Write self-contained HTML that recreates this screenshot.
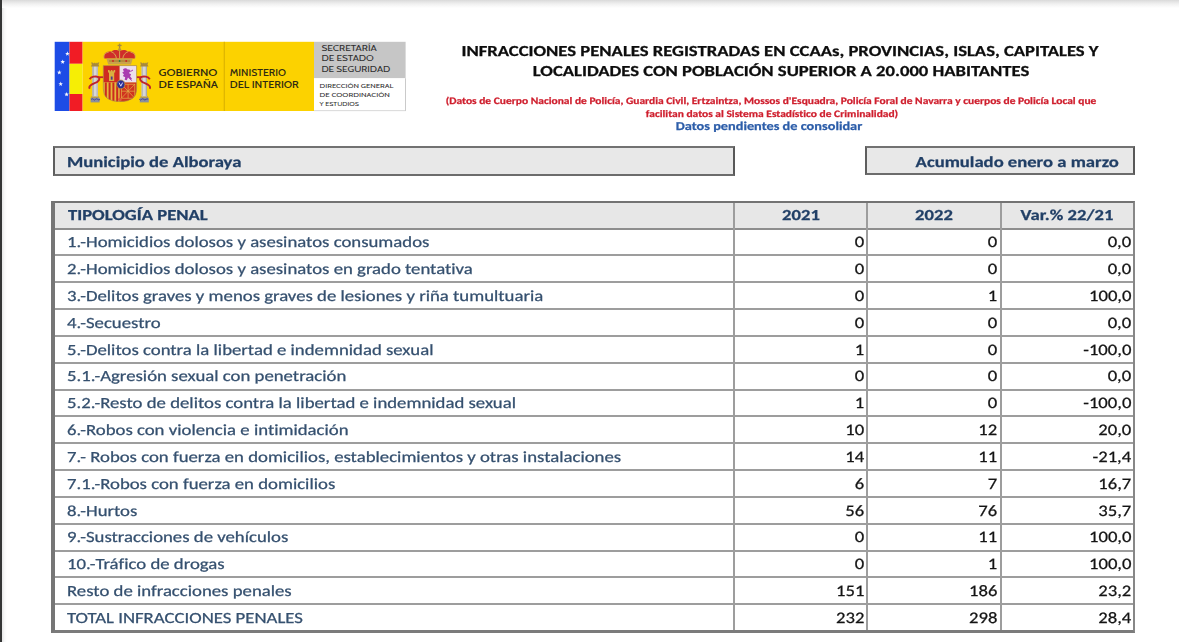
<!DOCTYPE html>
<html lang="es"><head><meta charset="utf-8"><title>Infracciones penales - Alboraya</title>
<style>
html,body{margin:0;padding:0;}
body{width:1179px;height:642px;position:relative;overflow:hidden;background:#fff;}
.t{position:absolute;white-space:nowrap;will-change:transform;text-rendering:geometricPrecision;font-variant-ligatures:none;-webkit-text-stroke:0.25px currentColor;font-family:"Calibri","Carlito","Liberation Sans",sans-serif;}
.shadeT{position:absolute;left:0;top:0;width:1179px;height:8px;background:linear-gradient(#d9d9d9,#e6e6e6 25%,#f1f1f1 50%,#f9f9f9 78%,#fff);}
.barL{position:absolute;left:0;top:0;width:2px;height:642px;background:#343535;}
.shadeL{position:absolute;left:2px;top:0;width:5px;height:642px;background:linear-gradient(90deg,#e6e6e6,#f8f8f8 50%,#fff);}
.box{position:absolute;box-sizing:border-box;border:2px solid;border-color:#727272 #585858 #6c6c6c #5e5e5e;background:#e8e8e8;}
.tbl{position:absolute;left:51px;top:201px;width:1084px;height:432px;box-sizing:border-box;border-style:solid;border-color:#737373 #878787 #7b7b7b #767676;border-width:2px 2px 3.3px 4px;background:#fff;}
.thead{position:absolute;left:55px;top:203px;width:1078px;height:25px;background:#e7e7e7;}
.hl{position:absolute;left:55px;width:1078px;height:2px;}
.vl{position:absolute;top:203px;width:2px;height:427px;background:#9d9d9d;}
</style></head>
<body>
<div class="shadeL"></div>
<div class="shadeT"></div>
<div class="barL"></div>
<svg style="position:absolute;left:50px;top:38px" width="360" height="78" viewBox="50 38 360 78">
<defs>
<clipPath id="sh"><path d="M103.3 65.6H136.6V89Q136.6 101.6 120 101.6Q103.3 101.6 103.3 89Z"/></clipPath>
<g id="pillar">
 <rect x="90.6" y="97.6" width="9" height="4.8" fill="#8a8f9e"/>
 <path d="M91.2 99.4q1.1-1.2 2.2 0t2.2 0 2.2 0 2.2 0" stroke="#3b3f9a" stroke-width="1" fill="none"/>
 <rect x="91.4" y="96.2" width="7.4" height="1.8" fill="#b49a52"/>
 <rect x="92.4" y="65.8" width="5.4" height="30.6" fill="#d7d7d7"/>
 <rect x="92.4" y="65.8" width="1.3" height="30.6" fill="#a9a9a9"/>
 <rect x="96.5" y="65.8" width="1.3" height="30.6" fill="#b7b7b7"/>
 <path d="M90.9 66.4h8.4l-.8-2.2.9-1.6h-1.6l-.8 1-.9-1.2-.9 1.2-.9-1.2-.9 1.2-.8-1h-1.6l.9 1.6z" fill="#a88a3c"/>
 <path d="M89.6 79.2c1.5-2.6 6-3.4 8.6-2.2c2.6 1.6.4 4.8-3.6 6.2c-3.6 1.4-6.4 3.4-4.8 5.6" stroke="#c0242b" stroke-width="1.9" fill="none"/>
</g>
</defs>
<!-- flag strips -->
<rect x="54.7" y="41.8" width="14.8" height="69.2" fill="#1d4ce6"/>
<rect x="69.5" y="41.8" width="13.1" height="22" fill="#f11c25"/>
<rect x="69.5" y="63.8" width="13.1" height="30.2" fill="#f6ee05"/>
<rect x="69.5" y="94" width="13.1" height="17" fill="#f11c25"/>
<g fill="#f4f7ff"><polygon points="67.40,51.30 67.99,52.89 69.68,52.96 68.35,54.01 68.81,55.64 67.40,54.70 65.99,55.64 66.45,54.01 65.12,52.96 66.81,52.89"/><polygon points="62.70,59.50 63.29,61.09 64.98,61.16 63.65,62.21 64.11,63.84 62.70,62.90 61.29,63.84 61.75,62.21 60.42,61.16 62.11,61.09"/><polygon points="59.30,70.10 59.89,71.69 61.58,71.76 60.25,72.81 60.71,74.44 59.30,73.50 57.89,74.44 58.35,72.81 57.02,71.76 58.71,71.69"/><polygon points="60.70,81.60 61.29,83.19 62.98,83.26 61.65,84.31 62.11,85.94 60.70,85.00 59.29,85.94 59.75,84.31 58.42,83.26 60.11,83.19"/><polygon points="66.60,92.00 67.19,93.59 68.88,93.66 67.55,94.71 68.01,96.34 66.60,95.40 65.19,96.34 65.65,94.71 64.32,93.66 66.01,93.59"/></g>
<!-- main yellow -->
<rect x="82.6" y="41.8" width="231.4" height="69.2" fill="#fcd200"/>
<rect x="223.7" y="41.8" width="1.2" height="69.2" fill="#dcb400"/>
<!-- grey / white boxes -->
<rect x="314" y="41.8" width="91.6" height="36.5" fill="#c6c6c6"/>
<rect x="314" y="78.3" width="91.1" height="32.2" fill="#ffffff"/>
<rect x="405" y="78.3" width="0.9" height="32.7" fill="#c4c4c4"/>
<rect x="314" y="110.3" width="91.9" height="0.8" fill="#cfcfcf"/>
<!-- pillars -->
<use href="#pillar"/>
<use href="#pillar" transform="translate(239.4 0) scale(-1 1)"/>
<path d="M97.5 77.2h6.2" stroke="#c0242b" stroke-width="1.8"/>
<path d="M136.5 77.2h5.4" stroke="#c0242b" stroke-width="1.8"/>
<!-- crown -->
<rect x="118.9" y="43.6" width="1.4" height="5" fill="#a78a3e"/>
<rect x="117.6" y="44.8" width="4" height="1.3" fill="#a78a3e"/>
<circle cx="119.6" cy="49.6" r="1.6" fill="#b7963f"/>
<path d="M104.2 58.6C102.6 53.6 106.6 50.6 111 51.6C113.6 49.2 117 49.6 119.6 51.2C122.2 49.6 125.6 49.2 128.2 51.6C132.6 50.6 136.6 53.6 135 58.6Z" fill="#cf2e2a"/>
<path d="M104.2 58.6C103 55 105.5 52.4 108.5 52.4M111 51.6C114 52.6 116 55 116.4 58.6M119.6 51.2V58.6M128.2 51.6C125.2 52.6 123.2 55 122.8 58.6M135 58.6C136.2 55 133.7 52.4 130.7 52.4" stroke="#d9b455" stroke-width="0.9" fill="none"/>
<path d="M106.4 58.4H132.8L131 64.6H108.2Z" fill="#c9a24a"/>
<rect x="109" y="60.4" width="21" height="1.2" fill="#a97c2f"/>
<circle cx="113" cy="61" r="0.9" fill="#c22"/><circle cx="119.6" cy="61" r="0.9" fill="#2a7a3a"/><circle cx="126.2" cy="61" r="0.9" fill="#c22"/>
<!-- shield -->
<g clip-path="url(#sh)">
 <rect x="103" y="65" width="34" height="37" fill="#d8b44a"/>
 <rect x="103.3" y="65.6" width="16.4" height="16.9" fill="#cf2a22"/>
 <path d="M109 81V72.5h-1v-2.4h1.6v1.2h1.2v-1.2h1.6v1.2h1.2v-1.2h1.6v2.4h-1V81z" fill="#d9b040"/>
 <rect x="110.8" y="76.5" width="1.8" height="3.2" fill="#4a3a8a"/>
 <rect x="119.7" y="65.6" width="17" height="16.9" fill="#ecdfee"/>
 <path d="M123 69.2c1.8-1.4 4-1 4.8.6c1.4-.8 3 .2 2.6 1.8l-1.6 1.4 2.4 1.6-1.2 1.6 2 2.6-1.8.8-2.2-2-1.2 2.6-2.2-.4.6-2.6-2.4-1.2 1.2-1.6-1.8-1.8 1.6-.8z" fill="#a93db0"/><path d="M130.5 71.5l2.5-1.5M129.5 78.5l2.5 2" stroke="#a93db0" stroke-width="1"/>
 <rect x="103.3" y="82.5" width="16.4" height="20" fill="#e4b83c"/>
 <rect x="104.8" y="82.5" width="2" height="20" fill="#cc2a1f"/>
 <rect x="108.6" y="82.5" width="2" height="20" fill="#cc2a1f"/>
 <rect x="112.4" y="82.5" width="2" height="20" fill="#cc2a1f"/>
 <rect x="116.2" y="82.5" width="2" height="20" fill="#cc2a1f"/>
 <rect x="119.7" y="82.5" width="17" height="20" fill="#d0341f"/>
 <g fill="none" stroke="#e4b046" stroke-width="0.7">
  <rect x="121.4" y="84.2" width="13.4" height="14"/>
  <path d="M121.4 84.2L134.8 98.2M134.8 84.2L121.4 98.2M128.1 84.2V98.2M121.4 91.2H134.8"/>
 </g>
 <circle cx="120" cy="99.6" r="1.8" fill="#e05a3a"/>
</g>
<path d="M103.3 65.6H136.6V89Q136.6 101.6 120 101.6Q103.3 101.6 103.3 89Z" fill="none" stroke="#a9843a" stroke-width="0.6"/>
<ellipse cx="120.8" cy="84.4" rx="4.1" ry="4.4" fill="#2c2f95" stroke="#c79a3a" stroke-width="0.7"/>
<path d="M119 82.6l1.8 3.6 1.8-3.6" stroke="#e9e4ff" stroke-width="0.9" fill="none"/>
<!-- logo text -->
<g font-family="Cabin, 'Liberation Sans', sans-serif" font-weight="500" fill="#2f2a12">
 <text x="158.6" y="76.1" font-size="9.8" textLength="58.8" lengthAdjust="spacingAndGlyphs">GOBIERNO</text>
 <text x="158.6" y="88.2" font-size="9.8" textLength="59.4" lengthAdjust="spacingAndGlyphs">DE ESPAÑA</text>
 <text x="229.8" y="76.1" font-size="9.8" textLength="56.1" lengthAdjust="spacingAndGlyphs">MINISTERIO</text>
 <text x="229.8" y="87.8" font-size="9.8" textLength="69" lengthAdjust="spacingAndGlyphs">DEL INTERIOR</text>
</g>
<g font-family="Cabin, 'Liberation Sans', sans-serif" font-weight="400" fill="#2e2e2e">
 <text x="321.4" y="50.9" font-size="8" textLength="55.4" lengthAdjust="spacingAndGlyphs">SECRETARÍA</text>
 <text x="321.4" y="61.2" font-size="8" textLength="52.4" lengthAdjust="spacingAndGlyphs">DE ESTADO</text>
 <text x="321.4" y="72.1" font-size="8" textLength="68.8" lengthAdjust="spacingAndGlyphs">DE SEGURIDAD</text>
 <text x="319.6" y="87.8" font-size="6" textLength="73.8" lengthAdjust="spacingAndGlyphs">DIRECCIÓN GENERAL</text>
 <text x="319.6" y="97" font-size="6" textLength="70.2" lengthAdjust="spacingAndGlyphs">DE COORDINACIÓN</text>
 <text x="319.6" y="106.4" font-size="6" textLength="39.4" lengthAdjust="spacingAndGlyphs">Y ESTUDIOS</text>
</g>
</svg>

<div class="t" style="left:780.00px;transform-origin:50% 0;transform:translateX(-50%) scaleX(1.2183);top:44px;font-size:15.3px;line-height:15.3px;font-weight:700;color:#0d0d0d;">INFRACCIONES PENALES REGISTRADAS EN CCAAs, PROVINCIAS, ISLAS, CAPITALES Y</div>
<div class="t" style="left:781.00px;transform-origin:50% 0;transform:translateX(-50%) scaleX(1.2183);top:64px;font-size:15.3px;line-height:15.3px;font-weight:700;color:#0d0d0d;">LOCALIDADES CON POBLACIÓN SUPERIOR A 20.000 HABITANTES</div>
<div class="t" style="left:771.10px;transform-origin:50% 0;transform:translateX(-50%) scaleX(1.1650);top:97px;font-size:9.85px;line-height:9.85px;font-weight:700;color:#cf1f2e;">(Datos de Cuerpo Nacional de Policía, Guardia Civil, Ertzaintza, Mossos d'Esquadra, Policía Foral de Navarra y cuerpos de Policía Local que</div>
<div class="t" style="left:771.50px;transform-origin:50% 0;transform:translateX(-50%) scaleX(1.1650);top:110px;font-size:9.85px;line-height:9.85px;font-weight:700;color:#cf1f2e;">facilitan datos al Sistema Estadístico de Criminalidad)</div>
<div class="t" style="left:769.30px;transform-origin:50% 0;transform:translateX(-50%) scaleX(1.1830);top:121px;font-size:12.1px;line-height:12.1px;font-weight:700;color:#2c5da9;">Datos pendientes de consolidar</div>
<div class="box" style="left:53px;top:146px;width:681.5px;height:29.6px;"></div>
<div class="box" style="left:865px;top:145.5px;width:270px;height:29.2px;"></div>
<div class="t" style="left:67.30px;transform-origin:0 0;transform:scaleX(1.2183);top:155px;font-size:15.3px;line-height:15.3px;font-weight:700;color:#213f66;">Municipio de Alboraya</div>
<div class="t" style="right:59.80px;transform-origin:100% 0;transform:scaleX(1.2183);top:155px;font-size:15.3px;line-height:15.3px;font-weight:700;color:#213f66;">Acumulado enero a marzo</div>
<div class="tbl"></div>
<div class="thead"></div>
<div class="hl" style="top:227.50px;background:#8e8e8e"></div>
<div class="hl" style="top:254.34px;background:#9d9d9d"></div>
<div class="hl" style="top:281.18px;background:#9d9d9d"></div>
<div class="hl" style="top:308.02px;background:#9d9d9d"></div>
<div class="hl" style="top:334.86px;background:#9d9d9d"></div>
<div class="hl" style="top:361.70px;background:#9d9d9d"></div>
<div class="hl" style="top:388.54px;background:#9d9d9d"></div>
<div class="hl" style="top:415.38px;background:#9d9d9d"></div>
<div class="hl" style="top:442.22px;background:#9d9d9d"></div>
<div class="hl" style="top:469.06px;background:#9d9d9d"></div>
<div class="hl" style="top:495.90px;background:#9d9d9d"></div>
<div class="hl" style="top:522.74px;background:#9d9d9d"></div>
<div class="hl" style="top:549.58px;background:#9d9d9d"></div>
<div class="hl" style="top:576.42px;background:#9d9d9d"></div>
<div class="hl" style="top:603.26px;background:#9d9d9d"></div>
<div class="vl" style="left:732.50px"></div>
<div class="vl" style="left:866.00px"></div>
<div class="vl" style="left:1000.00px"></div>
<div class="t" style="left:67.50px;transform-origin:0 0;transform:scaleX(1.2183);top:208px;font-size:15.3px;line-height:15.3px;font-weight:700;color:#213f66;">TIPOLOGÍA PENAL</div>
<div class="t" style="left:801.00px;transform-origin:50% 0;transform:translateX(-50%) scaleX(1.2183);top:208px;font-size:15.3px;line-height:15.3px;font-weight:700;color:#213f66;">2021</div>
<div class="t" style="left:934.20px;transform-origin:50% 0;transform:translateX(-50%) scaleX(1.2183);top:208px;font-size:15.3px;line-height:15.3px;font-weight:700;color:#213f66;">2022</div>
<div class="t" style="left:1067.30px;transform-origin:50% 0;transform:translateX(-50%) scaleX(1.2183);top:208px;font-size:15.3px;line-height:15.3px;font-weight:700;color:#213f66;">Var.% 22/21</div>
<div class="t" style="left:67.00px;transform-origin:0 0;transform:scaleX(1.2100);top:235px;font-size:15.5px;line-height:15.5px;font-weight:400;color:#35506f;">1.-Homicidios dolosos y asesinatos consumados</div>
<div class="t" style="right:314.80px;transform-origin:100% 0;transform:scaleX(1.1650);top:235px;font-size:16px;line-height:16px;font-weight:400;color:#141414;">0</div>
<div class="t" style="right:182.10px;transform-origin:100% 0;transform:scaleX(1.1650);top:235px;font-size:16px;line-height:16px;font-weight:400;color:#141414;">0</div>
<div class="t" style="right:47.90px;transform-origin:100% 0;transform:scaleX(1.1650);top:235px;font-size:16px;line-height:16px;font-weight:400;color:#141414;">0,0</div>
<div class="t" style="left:67.00px;transform-origin:0 0;transform:scaleX(1.2100);top:262px;font-size:15.5px;line-height:15.5px;font-weight:400;color:#35506f;">2.-Homicidios dolosos y asesinatos en grado tentativa</div>
<div class="t" style="right:314.80px;transform-origin:100% 0;transform:scaleX(1.1650);top:262px;font-size:16px;line-height:16px;font-weight:400;color:#141414;">0</div>
<div class="t" style="right:182.10px;transform-origin:100% 0;transform:scaleX(1.1650);top:262px;font-size:16px;line-height:16px;font-weight:400;color:#141414;">0</div>
<div class="t" style="right:47.90px;transform-origin:100% 0;transform:scaleX(1.1650);top:262px;font-size:16px;line-height:16px;font-weight:400;color:#141414;">0,0</div>
<div class="t" style="left:67.00px;transform-origin:0 0;transform:scaleX(1.2100);top:289px;font-size:15.5px;line-height:15.5px;font-weight:400;color:#35506f;">3.-Delitos graves y menos graves de lesiones y riña tumultuaria</div>
<div class="t" style="right:314.80px;transform-origin:100% 0;transform:scaleX(1.1650);top:289px;font-size:16px;line-height:16px;font-weight:400;color:#141414;">0</div>
<div class="t" style="right:182.10px;transform-origin:100% 0;transform:scaleX(1.1650);top:289px;font-size:16px;line-height:16px;font-weight:400;color:#141414;">1</div>
<div class="t" style="right:47.90px;transform-origin:100% 0;transform:scaleX(1.1650);top:289px;font-size:16px;line-height:16px;font-weight:400;color:#141414;">100,0</div>
<div class="t" style="left:67.00px;transform-origin:0 0;transform:scaleX(1.2100);top:316px;font-size:15.5px;line-height:15.5px;font-weight:400;color:#35506f;">4.-Secuestro</div>
<div class="t" style="right:314.80px;transform-origin:100% 0;transform:scaleX(1.1650);top:316px;font-size:16px;line-height:16px;font-weight:400;color:#141414;">0</div>
<div class="t" style="right:182.10px;transform-origin:100% 0;transform:scaleX(1.1650);top:316px;font-size:16px;line-height:16px;font-weight:400;color:#141414;">0</div>
<div class="t" style="right:47.90px;transform-origin:100% 0;transform:scaleX(1.1650);top:316px;font-size:16px;line-height:16px;font-weight:400;color:#141414;">0,0</div>
<div class="t" style="left:67.00px;transform-origin:0 0;transform:scaleX(1.2100);top:343px;font-size:15.5px;line-height:15.5px;font-weight:400;color:#35506f;">5.-Delitos contra la libertad e indemnidad sexual</div>
<div class="t" style="right:314.80px;transform-origin:100% 0;transform:scaleX(1.1650);top:343px;font-size:16px;line-height:16px;font-weight:400;color:#141414;">1</div>
<div class="t" style="right:182.10px;transform-origin:100% 0;transform:scaleX(1.1650);top:343px;font-size:16px;line-height:16px;font-weight:400;color:#141414;">0</div>
<div class="t" style="right:47.90px;transform-origin:100% 0;transform:scaleX(1.1650);top:343px;font-size:16px;line-height:16px;font-weight:400;color:#141414;">-100,0</div>
<div class="t" style="left:67.00px;transform-origin:0 0;transform:scaleX(1.2100);top:369px;font-size:15.5px;line-height:15.5px;font-weight:400;color:#35506f;">5.1.-Agresión sexual con penetración</div>
<div class="t" style="right:314.80px;transform-origin:100% 0;transform:scaleX(1.1650);top:369px;font-size:16px;line-height:16px;font-weight:400;color:#141414;">0</div>
<div class="t" style="right:182.10px;transform-origin:100% 0;transform:scaleX(1.1650);top:369px;font-size:16px;line-height:16px;font-weight:400;color:#141414;">0</div>
<div class="t" style="right:47.90px;transform-origin:100% 0;transform:scaleX(1.1650);top:369px;font-size:16px;line-height:16px;font-weight:400;color:#141414;">0,0</div>
<div class="t" style="left:67.00px;transform-origin:0 0;transform:scaleX(1.2100);top:396px;font-size:15.5px;line-height:15.5px;font-weight:400;color:#35506f;">5.2.-Resto de delitos contra la libertad e indemnidad sexual</div>
<div class="t" style="right:314.80px;transform-origin:100% 0;transform:scaleX(1.1650);top:396px;font-size:16px;line-height:16px;font-weight:400;color:#141414;">1</div>
<div class="t" style="right:182.10px;transform-origin:100% 0;transform:scaleX(1.1650);top:396px;font-size:16px;line-height:16px;font-weight:400;color:#141414;">0</div>
<div class="t" style="right:47.90px;transform-origin:100% 0;transform:scaleX(1.1650);top:396px;font-size:16px;line-height:16px;font-weight:400;color:#141414;">-100,0</div>
<div class="t" style="left:67.00px;transform-origin:0 0;transform:scaleX(1.2100);top:423px;font-size:15.5px;line-height:15.5px;font-weight:400;color:#35506f;">6.-Robos con violencia e intimidación</div>
<div class="t" style="right:314.80px;transform-origin:100% 0;transform:scaleX(1.1650);top:423px;font-size:16px;line-height:16px;font-weight:400;color:#141414;">10</div>
<div class="t" style="right:182.10px;transform-origin:100% 0;transform:scaleX(1.1650);top:423px;font-size:16px;line-height:16px;font-weight:400;color:#141414;">12</div>
<div class="t" style="right:47.90px;transform-origin:100% 0;transform:scaleX(1.1650);top:423px;font-size:16px;line-height:16px;font-weight:400;color:#141414;">20,0</div>
<div class="t" style="left:67.00px;transform-origin:0 0;transform:scaleX(1.2100);top:450px;font-size:15.5px;line-height:15.5px;font-weight:400;color:#35506f;">7.- Robos con fuerza en domicilios, establecimientos y otras instalaciones</div>
<div class="t" style="right:314.80px;transform-origin:100% 0;transform:scaleX(1.1650);top:450px;font-size:16px;line-height:16px;font-weight:400;color:#141414;">14</div>
<div class="t" style="right:182.10px;transform-origin:100% 0;transform:scaleX(1.1650);top:450px;font-size:16px;line-height:16px;font-weight:400;color:#141414;">11</div>
<div class="t" style="right:47.90px;transform-origin:100% 0;transform:scaleX(1.1650);top:450px;font-size:16px;line-height:16px;font-weight:400;color:#141414;">-21,4</div>
<div class="t" style="left:67.00px;transform-origin:0 0;transform:scaleX(1.2100);top:477px;font-size:15.5px;line-height:15.5px;font-weight:400;color:#35506f;">7.1.-Robos con fuerza en domicilios</div>
<div class="t" style="right:314.80px;transform-origin:100% 0;transform:scaleX(1.1650);top:477px;font-size:16px;line-height:16px;font-weight:400;color:#141414;">6</div>
<div class="t" style="right:182.10px;transform-origin:100% 0;transform:scaleX(1.1650);top:477px;font-size:16px;line-height:16px;font-weight:400;color:#141414;">7</div>
<div class="t" style="right:47.90px;transform-origin:100% 0;transform:scaleX(1.1650);top:477px;font-size:16px;line-height:16px;font-weight:400;color:#141414;">16,7</div>
<div class="t" style="left:67.00px;transform-origin:0 0;transform:scaleX(1.2100);top:504px;font-size:15.5px;line-height:15.5px;font-weight:400;color:#35506f;">8.-Hurtos</div>
<div class="t" style="right:314.80px;transform-origin:100% 0;transform:scaleX(1.1650);top:504px;font-size:16px;line-height:16px;font-weight:400;color:#141414;">56</div>
<div class="t" style="right:182.10px;transform-origin:100% 0;transform:scaleX(1.1650);top:504px;font-size:16px;line-height:16px;font-weight:400;color:#141414;">76</div>
<div class="t" style="right:47.90px;transform-origin:100% 0;transform:scaleX(1.1650);top:504px;font-size:16px;line-height:16px;font-weight:400;color:#141414;">35,7</div>
<div class="t" style="left:67.00px;transform-origin:0 0;transform:scaleX(1.2100);top:530px;font-size:15.5px;line-height:15.5px;font-weight:400;color:#35506f;">9.-Sustracciones de vehículos</div>
<div class="t" style="right:314.80px;transform-origin:100% 0;transform:scaleX(1.1650);top:530px;font-size:16px;line-height:16px;font-weight:400;color:#141414;">0</div>
<div class="t" style="right:182.10px;transform-origin:100% 0;transform:scaleX(1.1650);top:530px;font-size:16px;line-height:16px;font-weight:400;color:#141414;">11</div>
<div class="t" style="right:47.90px;transform-origin:100% 0;transform:scaleX(1.1650);top:530px;font-size:16px;line-height:16px;font-weight:400;color:#141414;">100,0</div>
<div class="t" style="left:67.00px;transform-origin:0 0;transform:scaleX(1.2100);top:557px;font-size:15.5px;line-height:15.5px;font-weight:400;color:#35506f;">10.-Tráfico de drogas</div>
<div class="t" style="right:314.80px;transform-origin:100% 0;transform:scaleX(1.1650);top:557px;font-size:16px;line-height:16px;font-weight:400;color:#141414;">0</div>
<div class="t" style="right:182.10px;transform-origin:100% 0;transform:scaleX(1.1650);top:557px;font-size:16px;line-height:16px;font-weight:400;color:#141414;">1</div>
<div class="t" style="right:47.90px;transform-origin:100% 0;transform:scaleX(1.1650);top:557px;font-size:16px;line-height:16px;font-weight:400;color:#141414;">100,0</div>
<div class="t" style="left:67.00px;transform-origin:0 0;transform:scaleX(1.2100);top:584px;font-size:15.5px;line-height:15.5px;font-weight:400;color:#35506f;">Resto de infracciones penales</div>
<div class="t" style="right:314.80px;transform-origin:100% 0;transform:scaleX(1.1650);top:584px;font-size:16px;line-height:16px;font-weight:400;color:#141414;">151</div>
<div class="t" style="right:182.10px;transform-origin:100% 0;transform:scaleX(1.1650);top:584px;font-size:16px;line-height:16px;font-weight:400;color:#141414;">186</div>
<div class="t" style="right:47.90px;transform-origin:100% 0;transform:scaleX(1.1650);top:584px;font-size:16px;line-height:16px;font-weight:400;color:#141414;">23,2</div>
<div class="t" style="left:67.00px;transform-origin:0 0;transform:scaleX(1.2100);top:611px;font-size:15.5px;line-height:15.5px;font-weight:400;color:#35506f;">TOTAL INFRACCIONES PENALES</div>
<div class="t" style="right:314.80px;transform-origin:100% 0;transform:scaleX(1.1650);top:611px;font-size:16px;line-height:16px;font-weight:400;color:#141414;">232</div>
<div class="t" style="right:182.10px;transform-origin:100% 0;transform:scaleX(1.1650);top:611px;font-size:16px;line-height:16px;font-weight:400;color:#141414;">298</div>
<div class="t" style="right:47.90px;transform-origin:100% 0;transform:scaleX(1.1650);top:611px;font-size:16px;line-height:16px;font-weight:400;color:#141414;">28,4</div>
</body></html>
